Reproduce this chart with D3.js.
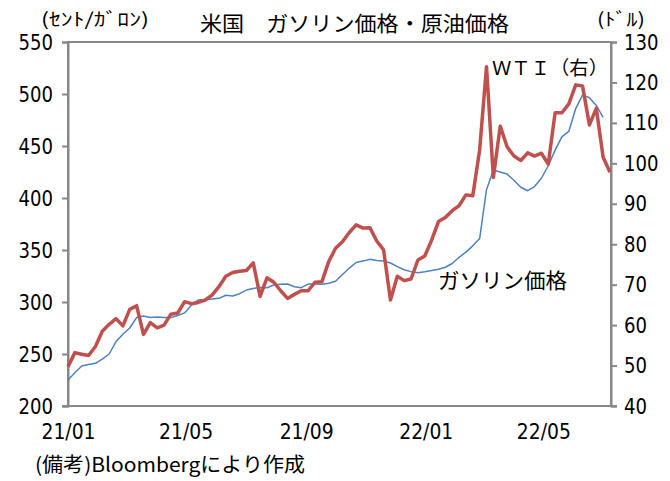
<!DOCTYPE html>
<html>
<head>
<meta charset="utf-8">
<script src="https://cdn.jsdelivr.net/npm/d3@7"></script>
<style>
body { margin: 0; background: #fff; }
svg text { font-family: "Noto Sans CJK JP", sans-serif; fill: #000; }
svg text.num { font-family: "Liberation Sans Narrow", "DejaVu Sans Condensed", "Liberation Sans", sans-serif; }
</style>
</head>
<body>
<svg id="chart" width="670" height="481"></svg>
<script>
// weekly data, first week = 2021-01-01
const firstWeek = '2021-01-01';

// WTI (ドル/バレル), right axis
const wti = [
    49.7, 53.2, 52.8, 52.5, 54.7, 58.5, 60.2, 61.6, 59.8, 63.9,
    64.8, 57.7, 60.6, 59.3, 60.0, 62.7, 63.0, 65.8, 65.3, 65.6,
    66.2, 67.4, 69.5, 72.1, 73.0, 73.3, 73.5, 75.4, 67.1, 71.7,
    70.6, 68.5, 66.6, 67.6, 68.5, 68.5, 70.6, 70.7, 75.7, 79.0,
    80.6, 82.9, 84.8, 84.0, 84.1, 80.8, 78.6, 66.2, 72.1, 71.0,
    71.4, 76.1, 77.1, 81.0, 85.6, 86.6, 88.3, 89.5, 92.2, 92.0,
    103.3, 123.9, 96.5, 109.2, 104.1, 101.8, 100.7, 102.6, 101.8, 102.5,
    99.8, 112.5, 112.5, 114.7, 119.4, 119.1, 109.5, 113.6, 101.5, 97.8
];

// gasoline (セント/ガロン), left axis
const gasoline = [
    225, 232, 238.5, 240, 241, 245, 250, 262, 269, 275,
    285, 286.5, 285, 285.5, 285, 285, 287, 289.5, 297, 302,
    302.5, 303, 303.5, 306.5, 305.8, 308, 311.5, 313, 314, 313.7,
    316.3, 317, 317.3, 314.7, 313.8, 317.2, 317.2, 317, 318, 320,
    326.5, 332.5, 338, 339.5, 341, 340, 339.5, 337.5, 334, 331,
    329.2, 328.2, 329, 330.2, 331.5, 333.4, 337, 343, 348, 354,
    361, 408, 427, 425, 423, 417, 410.3, 407, 411, 419,
    431, 446, 459, 464, 486, 499, 496.5, 489, 477.6
];

const leftTicks = [200, 250, 300, 350, 400, 450, 500, 550];
const rightTicks = [40, 50, 60, 70, 80, 90, 100, 110, 120, 130];
const xTickLabels = ['21/01', '21/05', '21/09', '22/01', '22/05'];

const RED = '#c0504d';
const BLUE = '#4f81bd';
const AXIS = '#878787';

const M = { left: 68, right: 611, top: 42, bottom: 406 };

const svg = d3.select('#chart');

const start = d3.timeParse('%Y-%m-%d')(firstWeek);
const weekDate = i => d3.timeDay.offset(start, 7 * i);
const parseTick = d3.timeParse('%y/%m');

const x = d3.scaleTime()
    .domain([start, weekDate(wti.length - 1)])
    .range([M.left, M.right - 1]);
const yL = d3.scaleLinear().domain([200, 550]).range([M.bottom, M.top]);
const yR = d3.scaleLinear().domain([40, 130]).range([M.bottom, M.top]);

// plot frame
svg.append('rect')
    .attr('x', M.left).attr('y', M.top)
    .attr('width', M.right - M.left).attr('height', M.bottom - M.top)
    .attr('fill', 'none').attr('stroke', AXIS).attr('stroke-width', 2);

// left axis
const gL = svg.append('g')
    .attr('transform', `translate(${M.left},0)`)
    .call(d3.axisLeft(yL).tickValues(leftTicks).tickSize(6).tickPadding(9));
// right axis
const gR = svg.append('g')
    .attr('transform', `translate(${M.right},0)`)
    .call(d3.axisRight(yR).tickValues(rightTicks).tickSize(6).tickPadding(7));
// bottom axis (labels only)
const gB = svg.append('g')
    .attr('transform', `translate(0,${M.bottom})`)
    .call(d3.axisBottom(x).tickValues(xTickLabels.map(parseTick))
        .tickFormat(d3.timeFormat('%y/%m')).tickSize(0).tickPadding(17));

[gL, gR, gB].forEach(g => {
    g.select('.domain').attr('stroke', AXIS).attr('stroke-width', 2);
    g.selectAll('.tick line').attr('stroke', AXIS).attr('stroke-width', 2);
    g.selectAll('.tick text')
        .attr('class', 'num')
        .attr('font-size', 22)
        .attr('fill', '#000')
        .attr('textLength', function () { return this.textContent.length * 11.5; })
        .attr('lengthAdjust', 'spacingAndGlyphs');
});
gB.select('.domain').attr('d', `M${M.left - 6},0H${M.right + 6}`);
gB.selectAll('.tick text').attr('textLength', 54);

// lines
const lineL = d3.line().x((d, i) => x(weekDate(i))).y(d => yL(d));
const lineR = d3.line().x((d, i) => x(weekDate(i))).y(d => yR(d));

svg.append('path')
    .datum(gasoline)
    .attr('d', lineL)
    .attr('fill', 'none')
    .attr('stroke', BLUE)
    .attr('stroke-width', 1.5)
    .attr('stroke-linejoin', 'round');

svg.append('path')
    .datum(wti)
    .attr('d', lineR)
    .attr('fill', 'none')
    .attr('stroke', RED)
    .attr('stroke-width', 3.5)
    .attr('stroke-linejoin', 'round');

// texts
svg.append('text')
    .attr('x', 200).attr('y', 31)
    .attr('font-size', 21)
    .attr('textLength', 309).attr('lengthAdjust', 'spacingAndGlyphs')
    .text('米国　ガソリン価格・原油価格');

svg.append('text')
    .attr('x', 41).attr('y', 26)
    .attr('font-size', 18)
    .attr('textLength', 108).attr('lengthAdjust', 'spacingAndGlyphs')
    .text('(ｾﾝﾄ/ｶﾞﾛﾝ)');

svg.append('text')
    .attr('x', 597).attr('y', 26)
    .attr('font-size', 18)
    .attr('textLength', 48).attr('lengthAdjust', 'spacingAndGlyphs')
    .text('(ﾄﾞﾙ)');

svg.append('text')
    .attr('x', 492).attr('y', 75)
    .attr('font-size', 19)
    .attr('fill', RED)
    .attr('textLength', 116).attr('lengthAdjust', 'spacingAndGlyphs')
    .text('ＷＴＩ（右）');

svg.append('text')
    .attr('x', 438).attr('y', 288)
    .attr('font-size', 21)
    .attr('fill', BLUE)
    .attr('textLength', 129).attr('lengthAdjust', 'spacingAndGlyphs')
    .text('ガソリン価格');

svg.append('text')
    .attr('x', 35).attr('y', 472)
    .attr('font-size', 20)
    .attr('textLength', 270).attr('lengthAdjust', 'spacingAndGlyphs')
    .text('(備考)Bloombergにより作成');
</script>
</body>
</html>
